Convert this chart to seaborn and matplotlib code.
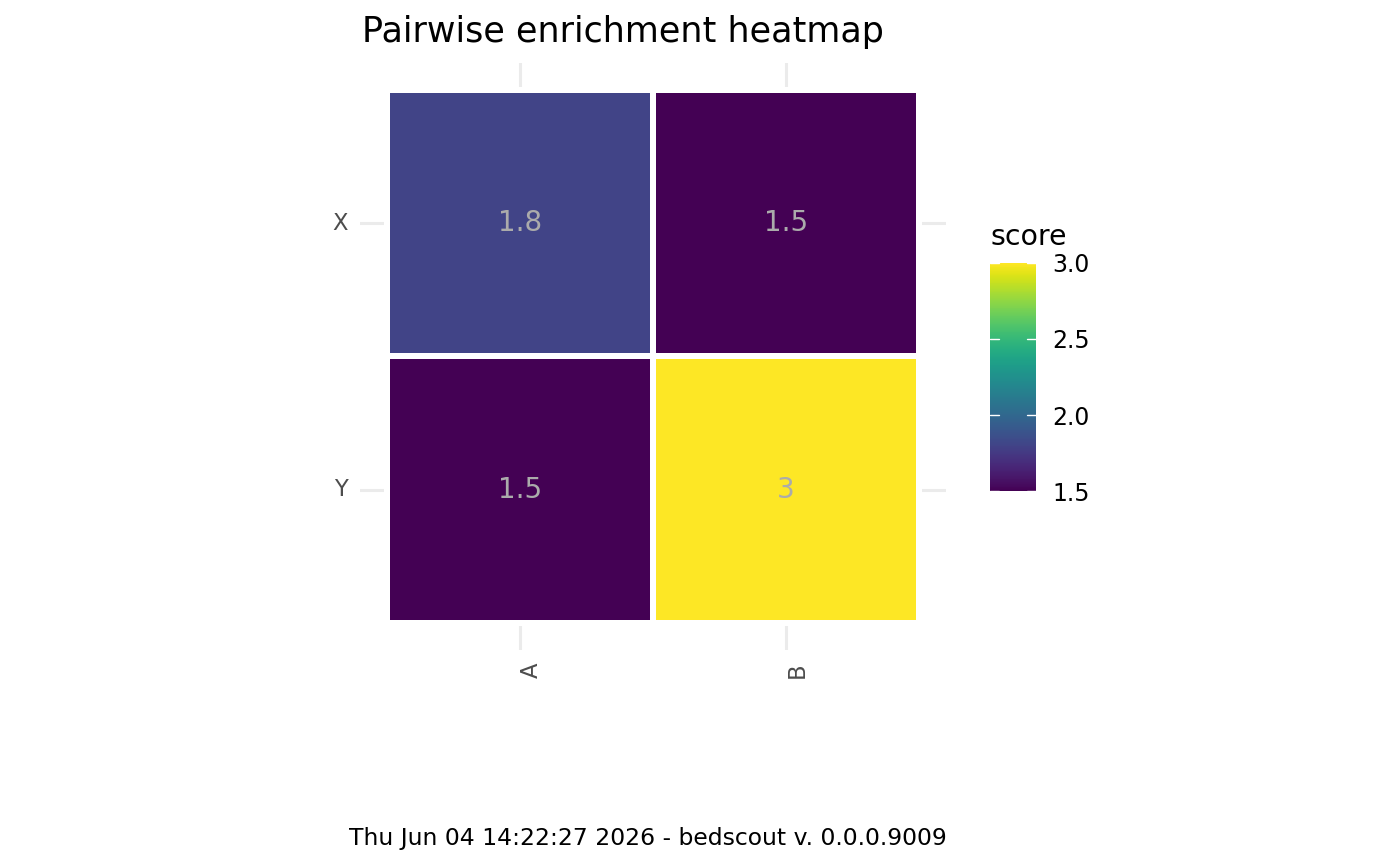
import numpy as np
import pandas as pd
import matplotlib
matplotlib.use("Agg")
import matplotlib.pyplot as plt
import seaborn as sns

# ---- data ----
rows = ["X", "Y"]
cols = ["A", "B"]
score_X = [1.8, 1.5]
score_Y = [1.5, 3.0]
cbar_ticks = [1.5, 2.0, 2.5, 3.0]
title = "Pairwise enrichment heatmap"
caption = "Thu Jun 04 14:22:27 2026 - bedscout v. 0.0.0.9009"
legend_title = "score"

df = pd.DataFrame([score_X, score_Y], index=rows, columns=cols)

sns.set_theme(style="white")
plt.rcParams['font.family'] = ['DejaVu Sans']

W, H = 1400, 866
fig = plt.figure(figsize=(W / 100, H / 100), dpi=100)

def rect(l, t, r, b):
    return [l / W, 1 - b / H, (r - l) / W, (b - t) / H]

ax = fig.add_axes(rect(360, 63, 946, 650))
cax = fig.add_axes(rect(990, 263, 1036, 491))

sns.heatmap(df, ax=ax, cmap="viridis", vmin=1.5, vmax=3.0,
            annot=True, fmt="g",
            annot_kws={"color": "#ababab", "fontsize": 20},
            linewidths=3.0, linecolor="white",
            cbar_ax=cax, cbar_kws={"ticks": cbar_ticks})

# ggplot-style expansion around discrete scales
ax.set_xlim(-0.1, 2.1)
ax.set_ylim(2.1, -0.1)
ax.set_axisbelow(True)
ax.grid(True, color="#ebebeb", linewidth=2.2)
for s in ax.spines.values():
    s.set_visible(False)
ax.set_xlabel("")
ax.set_ylabel("")
ax.set_xticks([0.5, 1.5])
ax.set_yticks([0.5, 1.5])
ax.set_xticklabels(cols, rotation=90, ha="left")
ax.set_yticklabels(rows, rotation=0)
ax.tick_params(axis="both", length=0, pad=9, labelsize=16.3, labelcolor="#4d4d4d")
for c in ax.collections:
    c.set_zorder(2)
for t in ax.texts:
    t.set_zorder(3)

# colorbar styling
cb = ax.collections[0].colorbar
cb.outline.set_visible(False)
cax.tick_params(axis="y", length=0, labelsize=17, labelcolor="black", pad=11.5,
                labelleft=False, labelright=True)
cax.set_yticklabels([f"{v:.1f}" for v in cbar_ticks])
for v in cbar_ticks:
    cax.axhline(v, xmin=0, xmax=0.2, color="white", linewidth=1, zorder=5)
    cax.axhline(v, xmin=0.8, xmax=1.0, color="white", linewidth=1, zorder=5)
fig.text(991 / W, 1 - 245 / H, legend_title, fontsize=20.4, color="black",
         ha="left", va="baseline")

fig.text(622.5 / W, 1 - 42 / H, title, fontsize=25.2, color="black",
         ha="center", va="baseline")
fig.text(647.5 / W, 1 - 845 / H, caption, fontsize=16.9, color="black",
         ha="center", va="baseline")

fig.savefig("out.png", dpi=100, facecolor="white")
